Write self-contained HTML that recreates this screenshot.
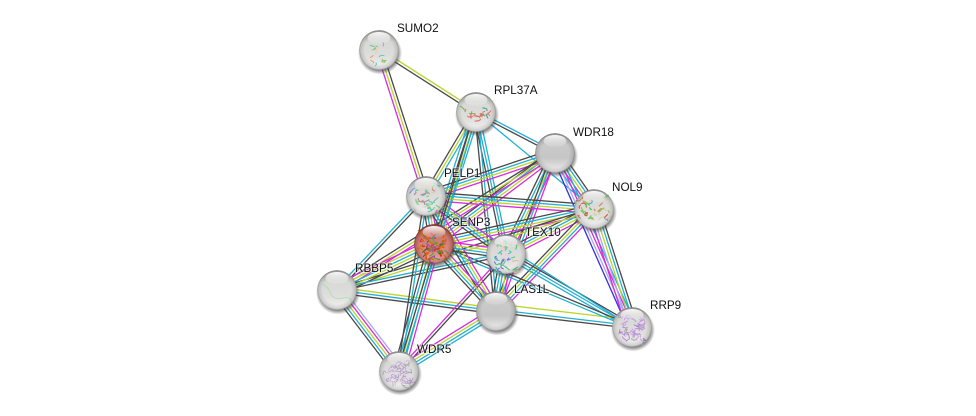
<!DOCTYPE html>
<html><head><meta charset="utf-8"><style>
html,body{margin:0;padding:0;background:#fff}
svg{display:block}
text{font-family:"Liberation Sans",sans-serif;font-size:11.7px;fill:#111;stroke:#fff;stroke-opacity:.55;stroke-width:2px;paint-order:stroke}
</style></head><body>
<svg id="s" width="976" height="416" viewBox="0 0 976 416" xmlns="http://www.w3.org/2000/svg">
<defs>
<linearGradient id="g" x1="0" y1="0" x2="0" y2="1"><stop offset="0" stop-color="#a0a0a0"/><stop offset=".3" stop-color="#cacaca"/><stop offset=".62" stop-color="#c6c6c6"/><stop offset="1" stop-color="#f0f0f0"/></linearGradient>
<linearGradient id="g2" x1="0" y1="0" x2="0" y2="1"><stop offset="0" stop-color="#a4a4a4"/><stop offset=".3" stop-color="#d8d8d6"/><stop offset=".65" stop-color="#dededc"/><stop offset="1" stop-color="#f2f2f2"/></linearGradient>
<linearGradient id="r" x1="0" y1="0" x2="0" y2="1"><stop offset="0" stop-color="#a85854"/><stop offset=".35" stop-color="#cf7a74"/><stop offset=".7" stop-color="#d98a84"/><stop offset="1" stop-color="#eeb0a8"/></linearGradient>
<radialGradient id="rim" cx="50%" cy="50%" r="50%"><stop offset=".72" stop-color="#555" stop-opacity="0"/><stop offset=".93" stop-color="#555" stop-opacity=".2"/><stop offset="1" stop-color="#444" stop-opacity=".5"/></radialGradient>
<radialGradient id="rimr" cx="50%" cy="50%" r="50%"><stop offset=".72" stop-color="#601818" stop-opacity="0"/><stop offset=".93" stop-color="#601818" stop-opacity=".3"/><stop offset="1" stop-color="#501010" stop-opacity=".7"/></radialGradient>
<linearGradient id="h" x1="0" y1="0" x2="0" y2="1"><stop offset="0" stop-color="#fff" stop-opacity=".95"/><stop offset="1" stop-color="#fff" stop-opacity=".05"/></linearGradient>
<radialGradient id="sh" cx="50%" cy="50%" r="50%"><stop offset=".8" stop-color="#444" stop-opacity=".65"/><stop offset="1" stop-color="#444" stop-opacity="0"/></radialGradient>
</defs>
<g id="e" fill="none" stroke-width="1.3"></g>
<g id="n"></g>
<g id="t">
<text x="397" y="32">SUMO2</text>
<text x="494" y="94">RPL37A</text>
<text x="573" y="136">WDR18</text>
<text x="612" y="191">NOL9</text>
<text x="444" y="177">PELP1</text>
<text x="452" y="226">SENP3</text>
<text x="525" y="236">TEX10</text>
<text x="355" y="272">RBBP5</text>
<text x="514" y="293">LAS1L</text>
<text x="417" y="353">WDR5</text>
<text x="650" y="309">RRP9</text>
</g>
</svg>
<script>
var P={S:[379,50],R:[476,112],W:[555,153],N:[594,209],E:[426,196],P:[434,244],T:[506,254],B:[337,290],L:[496,311],D:[399,371],Q:[632,327]};
var C={c:"#22b0d2",y:"#bcd42e",m:"#d82cd8",k:"#484848",b:"#3030e8",l:"#a8a8f0"};
var E=["S R yk","S E kym","R W ck","R N c","R E cyk","R P cykc","R T cck","R L ck",
"W N kcymc","W Q cmlb","N Q kcylm","W E myck","W P myck","W T myck","W L mck","W B myk",
"N E myck","N P myck","N T myck","N L mcyk","N B yk","T Q kcc","L Q ck","L Q yc","P Q kc","E Q c",
"B E ck","B P mycyk","B T ck","B L yck","B D lmyck","D E kc","D P kcycm","D T mk","D L mycc",
"E P myck","E T myck","E L myck","P T myck","P L myck","T L mycck","R D ck"];
var NS="http://www.w3.org/2000/svg",g=document.getElementById("e");
E.forEach(function(s){var a=s.split(" "),p=P[a[0]],q=P[a[1]],c=a[2];
 if(s=="L Q yc"){c="y";}
 var dx=q[0]-p[0],dy=q[1]-p[1],d=Math.hypot(dx,dy),nx=-dy/d,ny=dx/d,n=c.length;
 for(var i=0;i<n;i++){var o=(i-(n-1)/2)*2.8+(s=="L Q yc"?-7:0);
  var l=document.createElementNS(NS,"line");
  l.setAttribute("x1",(p[0]+nx*o).toFixed(1));l.setAttribute("y1",(p[1]+ny*o).toFixed(1));
  l.setAttribute("x2",(q[0]+nx*o).toFixed(1));l.setAttribute("y2",(q[1]+ny*o).toFixed(1));
  l.setAttribute("stroke",C[c[i]]);g.appendChild(l);}
});
var seed=7;function rn(){seed=(seed*16807)%2147483647;return seed/2147483647;}
var A={
S:[["#8c6","#d96","#4cc","#5c8","#ecb"],6,13,16,.9,0,2],
R:[["#d87","#4a9","#7b5","#d76"],12,5,18,1.1,0,2],
N:[["#5c6","#d54","#59d","#9b5","#c84","#dca"],15,11,30,1.1,0,0],
E:[["#c87","#8c8","#79e","#6ca","#dcb"],13,13,36,1.1,0,1],
P:[["#c33","#d70","#694","#a62","#372","#e50","#95a"],12,13,70,1.2,0,2],
T:[["#dba","#5c7","#4cb","#67d","#ecd"],13,14,38,1.1,0,2],
B:[["#ada"],0,0,0,.7,0,0],
D:[["#c9d","#b8c","#a9c","#cad","#aaa"],13,13,56,.7,0,2],
Q:[["#b8d","#a7c","#c9e","#b9d","#aaa"],13,12,54,.8,0,2],
W:[[],0,0,0,1,0,0],L:[[],0,0,0,1,0,0]
};
var h="";
for(var k in P){var x=P[k][0],y=P[k][1],a=A[k],empty=(k=="W"||k=="L");
 h+='<ellipse cx="'+(x+1)+'" cy="'+(y+3)+'" rx="22" ry="21.5" fill="url(#sh)"/>';
 h+='<circle cx="'+x+'" cy="'+y+'" r="19.8" fill="url(#'+(k=="P"?"r":(empty?"g":"g2"))+')"/>';
 for(var i=0;i<a[3];i++){
  var px=x+(rn()*2-1)*a[1],py=y+a[6]+(rn()*2-1)*a[2],
  dx=(rn()*2-1)*6,dy=(rn()*2-1)*5,cx=(rn()*2-1)*5,cy=(rn()*2-1)*5;
  h+='<path d="M'+px.toFixed(1)+' '+py.toFixed(1)+'q'+cx.toFixed(1)+' '+cy.toFixed(1)+' '+dx.toFixed(1)+' '+dy.toFixed(1)+'" fill="none" stroke="'+a[0][Math.floor(rn()*a[0].length)]+'" stroke-width="'+a[4]+'"/>';
 }
 if(k=="B")h+='<path d="M'+(x-14)+' '+(y-6)+'q6 4 8 10t12 4t8 6" fill="none" stroke="#ada" stroke-width=".8"/>';
 h+='<circle cx="'+x+'" cy="'+y+'" r="19.8" fill="url(#'+(k=="P"?"rimr":"rim")+')"/>';
 h+='<ellipse cx="'+x+'" cy="'+(y-12)+'" rx="11.5" ry="6" fill="url(#h)"/>';
}
document.getElementById("n").innerHTML=h;
</script>
</body></html>
